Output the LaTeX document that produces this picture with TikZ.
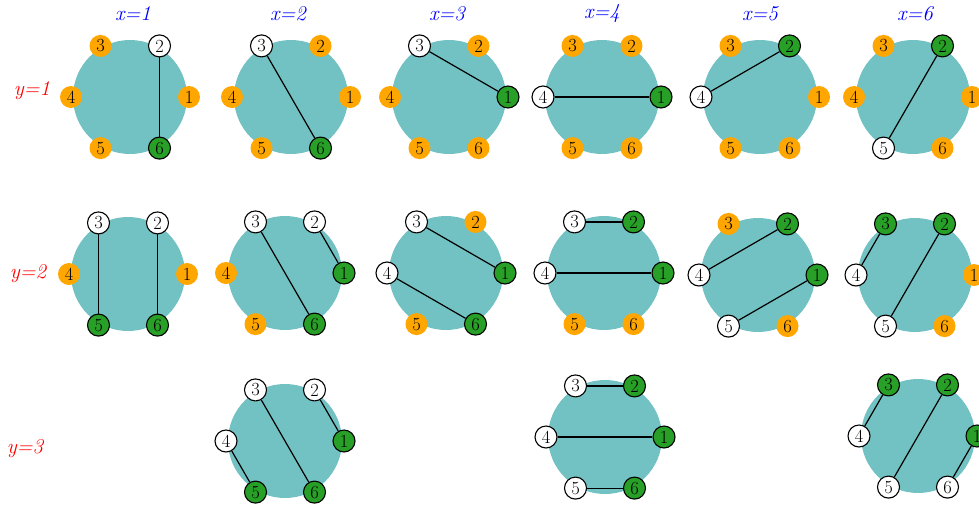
\documentclass[tikz,border=0pt]{standalone}
\definecolor{disk}{RGB}{115,194,195}
\definecolor{orng}{RGB}{255,166,0}
\definecolor{grn}{RGB}{40,160,40}
\tikzset{
  base/.style={circle,inner sep=0pt,minimum size=22pt,font=\fontsize{18.5}{18.5}\selectfont},
  wn/.style={base,draw=black,line width=1.1pt,fill=white},
  gn/.style={base,draw=black,line width=1.1pt,fill=grn},
  on/.style={base,fill=orng},
  edge/.style={draw=black,line width=1.2pt},
  xlab/.style={text=blue,font=\fontsize{21}{21}\selectfont\itshape},
  ylab/.style={text=red,font=\fontsize{21}{21}\selectfont\itshape},
}
\newcommand{\hexpanel}[5]{%
  \fill[disk] (#2,#3) circle (57);
  \foreach \k/\st in {#4}{%
    \pgfmathsetmacro\ang{(\k-1)*60}%
    \node[\st] (#1-\k) at ({#2+59*cos(\ang)},{#3-59*sin(\ang)}) {\k};
  }
  \foreach \u/\v in {#5}{\draw[edge] (#1-\u) -- (#1-\v);}
}
\begin{document}
\begin{tikzpicture}[x=1pt,y=-1pt]
\useasboundingbox[fill=white] (0,0) rectangle (979,504);
\begin{scope}
\clip (0,0) rectangle (979,504);
% column labels
\node[xlab] (lx1) at (133,14) {x=1};
\node[xlab] (lx2) at (288,14) {x=2};
\node[xlab] (lx3) at (447,14) {x=3};
\node[xlab] (lx4) at (602,14) {x=4};
\node[xlab] (lx5) at (760,14) {x=5};
\node[xlab] (lx6) at (915,14) {x=6};
% row labels
\node[ylab] (ly1) at (32,91) {y=1};
\node[ylab] (ly2) at (28,274) {y=2};
\node[ylab] (ly3) at (25,449) {y=3};
% row 1
\hexpanel{a1}{130}{97}{1/on,2/wn,3/on,4/on,5/on,6/gn}{2/6}
\hexpanel{a2}{291}{97}{1/on,2/on,3/wn,4/on,5/on,6/gn}{3/6}
\hexpanel{a3}{449}{97}{1/gn,2/on,3/wn,4/on,5/on,6/on}{3/1}
\hexpanel{a4}{602}{97}{1/gn,2/on,3/on,4/wn,5/on,6/on}{4/1}
\hexpanel{a5}{760}{97}{1/on,2/gn,3/on,4/wn,5/on,6/on}{4/2}
\hexpanel{a6}{913}{97}{1/on,2/gn,3/on,4/on,5/wn,6/on}{5/2}
% row 2
\hexpanel{b1}{128}{274}{1/on,2/wn,3/wn,4/on,5/gn,6/gn}{3/5,2/6}
\hexpanel{b2}{285}{273}{1/gn,2/wn,3/wn,4/on,5/on,6/gn}{2/1,3/6}
\hexpanel{b3}{446}{273}{1/gn,2/on,3/wn,4/wn,5/on,6/gn}{3/1,4/6}
\hexpanel{b4}{604}{273}{1/gn,2/gn,3/wn,4/wn,5/on,6/on}{3/2,4/1}
\hexpanel{b5}{758}{275}{1/gn,2/gn,3/on,4/wn,5/wn,6/on}{4/2,5/1}
\hexpanel{b6}{915}{275}{1/on,2/gn,3/gn,4/wn,5/wn,6/on}{4/3,5/2}
% row 3
\hexpanel{c2}{285}{441}{1/gn,2/wn,3/wn,4/wn,5/gn,6/gn}{2/1,3/6,4/5}
\hexpanel{c4}{605}{437}{1/gn,2/gn,3/wn,4/wn,5/wn,6/gn}{3/2,4/1,5/6}
\hexpanel{c6}{918}{436}{1/gn,2/gn,3/gn,4/wn,5/wn,6/wn}{4/3,5/2,6/1}
\end{scope}
\end{tikzpicture}
\end{document}
